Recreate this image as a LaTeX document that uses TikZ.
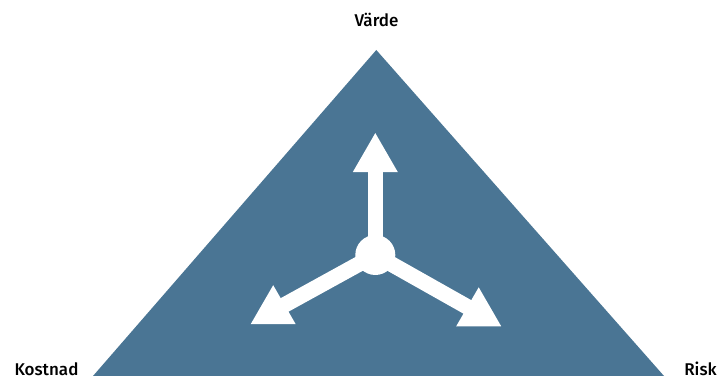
\documentclass[tikz,border=0pt]{standalone}
\usepackage{fontspec}
\setmainfont{Fira Sans}[BoldFont={Fira Sans Medium}]
\usetikzlibrary{shapes.geometric}
\definecolor{slateblue}{HTML}{4A7594}
\tikzset{
  label/.style={font=\fontsize{17}{20}\selectfont\bfseries, text=black, inner sep=0pt, text depth=0pt, anchor=base},
  hub/.style={circle, fill=white, minimum size=40pt, inner sep=0pt},
  head/.style={regular polygon, regular polygon sides=3, fill=white, minimum size=52pt, inner sep=0pt},
  shaft/.style={white, line width=15.6pt}
}
\begin{document}
\begin{tikzpicture}[x=1pt, y=-1pt]
  \useasboundingbox (0,0) rectangle (718,379);
  % the triangle
  \fill[slateblue] (376.3,50) -- (664,376) -- (93,376) -- cycle;
  % corner labels
  \node[label] (v) at (376.5,27) {Värde};
  \node[label] (k) at (46.5,375.5) {Kostnad};
  \node[label] (r) at (700.5,375.5) {Risk};
  % hub and three arrows
  \node[hub] (c) at (375.3,255) {};
  \node[head] (up) at (375.3,159.1) {};
  \node[head, rotate=120] (lt) at (273.2,311.2) {};
  \node[head, rotate=-120] (rt) at (478.7,313.3) {};
  \draw[shaft] (c.center) -- (up.center);
  \draw[shaft] (c.center) -- (lt.center);
  \draw[shaft] (c.center) -- (rt.center);
\end{tikzpicture}
\end{document}
